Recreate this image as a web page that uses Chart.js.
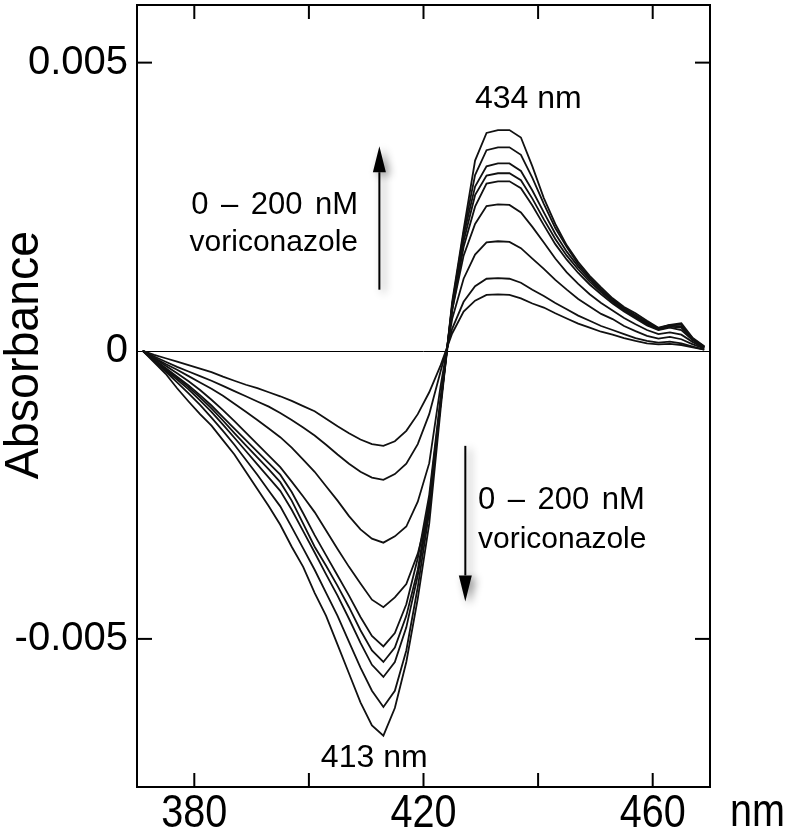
<!DOCTYPE html>
<html>
<head>
<meta charset="utf-8">
<script src="https://cdn.jsdelivr.net/npm/chart.js@4.4.0/dist/chart.umd.min.js"></script>
<style>
  html, body { margin: 0; padding: 0; background: #fff; }
  #wrap { width: 797px; height: 834px; }
</style>
</head>
<body>
<div id="wrap"><canvas id="chart" width="797" height="834"></canvas></div>
<script>
// Difference spectra, 0-200 nM voriconazole titration.
// Values (absorbance vs wavelength, nm).

const WAVELENGTHS = [371, 373, 375, 377, 379, 381, 383, 385, 387, 389,
  391, 393, 395, 397, 399, 401, 403, 405, 407, 409,
  411, 413, 415, 417, 419, 421, 423, 425, 427, 429,
  431, 433, 435, 437, 439, 441, 443, 445, 447, 449,
  451, 453, 455, 457, 459, 461, 463, 465, 467, 469];

const TRACE_1 = [0, -0.00007, -0.00013, -0.00019, -0.00025, -0.00031, -0.00037, -0.00045, -0.00052, -0.00059,
  -0.00065, -0.00072, -0.00079, -0.00087, -0.00096, -0.00105, -0.00118, -0.00131, -0.00143, -0.00154,
  -0.00162, -0.00165, -0.00157, -0.00139, -0.00110, -0.00072, -0.00025, 0.0003, 0.00068, 0.00087,
  0.00097, 0.00098, 0.00097, 0.00091, 0.00082, 0.00075, 0.00065, 0.00056, 0.00047, 0.0004,
  0.00033, 0.00028, 0.00022, 0.00017, 0.00013, 0.00011, 0.00012, 0.0001, 0.00006, 0.00002];

const TRACE_2 = [0, -0.0001, -0.00019, -0.00028, -0.00036, -0.00044, -0.00052, -0.00061, -0.0007, -0.00079,
  -0.00088, -0.00097, -0.00108, -0.0012, -0.00133, -0.00147, -0.00163, -0.0018, -0.00196, -0.0021,
  -0.0022, -0.00224, -0.00214, -0.00196, -0.00162, -0.0011, -0.00035, 0.00038, 0.00085, 0.00112,
  0.00125, 0.00126, 0.00125, 0.00118, 0.00106, 0.00095, 0.00083, 0.00072, 0.00061, 0.00052,
  0.00043, 0.00036, 0.00029, 0.00022, 0.00017, 0.00014, 0.00016, 0.00013, 0.00007, 0.00002];

const TRACE_3 = [0, -0.00012, -0.00023, -0.00033, -0.00044, -0.00055, -0.00066, -0.00078, -0.00092, -0.00106,
  -0.0012, -0.00135, -0.0015, -0.00168, -0.00189, -0.0021, -0.00235, -0.0026, -0.00287, -0.0031,
  -0.00326, -0.00333, -0.00322, -0.00305, -0.00262, -0.00195, -0.0006, 0.00055, 0.00125, 0.00167,
  0.00188, 0.0019, 0.00189, 0.00178, 0.0016, 0.00142, 0.00123, 0.00106, 0.0009, 0.00077,
  0.00064, 0.00055, 0.00043, 0.00034, 0.00026, 0.00021, 0.00024, 0.0002, 0.00011, 0.00004];

const TRACE_4 = [0, -0.00013, -0.00026, -0.00039, -0.00053, -0.00068, -0.00085, -0.00103, -0.00122, -0.00142,
  -0.00162, -0.00182, -0.00202, -0.00227, -0.00253, -0.0028, -0.00312, -0.00344, -0.00375, -0.00404,
  -0.00432, -0.00445, -0.00428, -0.00405, -0.00352, -0.00275, -0.0009, 0.0007, 0.00165, 0.0022,
  0.00251, 0.00254, 0.00253, 0.0024, 0.00215, 0.00188, 0.0016, 0.00136, 0.00116, 0.00098,
  0.00083, 0.0007, 0.00057, 0.00046, 0.00036, 0.00029, 0.00032, 0.00028, 0.00015, 0.00005];

const TRACE_5 = [0, -0.00015, -0.0003, -0.00045, -0.0006, -0.00077, -0.00095, -0.00115, -0.00135, -0.00155,
  -0.00175, -0.00195, -0.00215, -0.00245, -0.00282, -0.0032, -0.00355, -0.0039, -0.00425, -0.00462,
  -0.00495, -0.00513, -0.0049, -0.0044, -0.0036, -0.0025, -0.0008, 0.0007, 0.0018, 0.0025,
  0.0029, 0.00294, 0.00294, 0.00282, 0.00252, 0.00218, 0.00185, 0.00158, 0.00135, 0.00115,
  0.00098, 0.00082, 0.00068, 0.00056, 0.00044, 0.00036, 0.0004, 0.00036, 0.00018, 0.00006];

const TRACE_6 = [0, -0.00016, -0.00032, -0.00047, -0.00063, -0.00081, -0.001, -0.00121, -0.00143, -0.00164,
  -0.00185, -0.00206, -0.00228, -0.0026, -0.003, -0.0034, -0.00373, -0.00408, -0.00445, -0.00485,
  -0.0052, -0.0054, -0.00515, -0.0046, -0.0038, -0.0026, -0.00085, 0.00075, 0.0019, 0.0027,
  0.00304, 0.00308, 0.00308, 0.00296, 0.00264, 0.00228, 0.00194, 0.00165, 0.00141, 0.0012,
  0.00102, 0.00085, 0.0007, 0.00058, 0.00046, 0.00037, 0.00042, 0.0004, 0.00019, 0.00006];

const TRACE_7 = [0, -0.00017, -0.00034, -0.0005, -0.00067, -0.00086, -0.00106, -0.00128, -0.00151, -0.00174,
  -0.00197, -0.0022, -0.00243, -0.00276, -0.00313, -0.0035, -0.00388, -0.00425, -0.00465, -0.00507,
  -0.00545, -0.00566, -0.0054, -0.0048, -0.0039, -0.0027, -0.0009, 0.00078, 0.002, 0.00285,
  0.0032, 0.00325, 0.00325, 0.00312, 0.00278, 0.0024, 0.00203, 0.00172, 0.00146, 0.00124,
  0.00105, 0.00087, 0.00072, 0.0006, 0.00048, 0.00038, 0.00044, 0.00042, 0.0002, 0.00007];

const TRACE_8 = [0, -0.00018, -0.00036, -0.00055, -0.00074, -0.00094, -0.00116, -0.00139, -0.00163, -0.00189,
  -0.00215, -0.00243, -0.0027, -0.00306, -0.00343, -0.0038, -0.0042, -0.0046, -0.00505, -0.0055,
  -0.0059, -0.00618, -0.0059, -0.0052, -0.0041, -0.0028, -0.0009, 0.0008, 0.00205, 0.00305,
  0.00348, 0.00353, 0.00353, 0.0034, 0.003, 0.00255, 0.00213, 0.0018, 0.0015, 0.00127,
  0.00107, 0.00089, 0.00074, 0.00062, 0.0005, 0.00039, 0.00045, 0.00045, 0.00021, 0.00007];

const TRACE_9 = [0, -0.0002, -0.0004, -0.00065, -0.00088, -0.0011, -0.0013, -0.00155, -0.0018, -0.0021,
  -0.0024, -0.0027, -0.00302, -0.0034, -0.00375, -0.0042, -0.0046, -0.0051, -0.0056, -0.0061,
  -0.0065, -0.00668, -0.0062, -0.0054, -0.0043, -0.003, -0.001, 0.00085, 0.0021, 0.0033,
  0.00378, 0.00383, 0.00383, 0.0037, 0.0032, 0.00265, 0.0022, 0.00183, 0.00154, 0.0013,
  0.0011, 0.00091, 0.00076, 0.00065, 0.00052, 0.0004, 0.00045, 0.00048, 0.00022, 0.00008];

const TRACES = [TRACE_1, TRACE_2, TRACE_3, TRACE_4, TRACE_5, TRACE_6, TRACE_7, TRACE_8, TRACE_9];

const X_TICKS = [380, 400, 420, 440, 460];
const X_LABELS = [380, 420, 460];
const Y_TICKS = [-0.005, 0, 0.005];
const Y_LABELS = { '-0.005': '-0.005', '0': '0', '0.005': '0.005' };

const FONT = "'Liberation Sans', Arial, Helvetica, sans-serif";

function line(ctx, x1, y1, x2, y2) {
  ctx.beginPath();
  ctx.moveTo(x1, y1);
  ctx.lineTo(x2, y2);
  ctx.stroke();
}

// text squeezed horizontally, like the condensed face of the original
function narrowText(ctx, text, x, y, size, squeeze, align) {
  ctx.save();
  ctx.translate(x, y);
  ctx.scale(squeeze, 1);
  ctx.font = size + 'px ' + FONT;
  ctx.textAlign = align;
  ctx.fillText(text, 0, 0);
  ctx.restore();
}

// words laid out with a wide gap between them; align is 'left' or 'right'
function gappedText(ctx, words, x, y, gap, align) {
  const total = words.reduce((s, w) => s + ctx.measureText(w).width, 0) + gap * (words.length - 1);
  let cx = align === 'right' ? x - total : x;
  ctx.save();
  ctx.textAlign = 'left';
  words.forEach(w => {
    ctx.fillText(w, cx, y);
    cx += ctx.measureText(w).width + gap;
  });
  ctx.restore();
}

function arrow(ctx, x, yFrom, yTip) {
  const dir = yTip < yFrom ? -1 : 1;
  const head = 26;
  ctx.save();
  ctx.shadowColor = 'rgba(0,0,0,0.45)';
  ctx.shadowBlur = 8;
  ctx.shadowOffsetX = 4;
  ctx.shadowOffsetY = 3;
  ctx.strokeStyle = '#000';
  ctx.fillStyle = '#000';
  ctx.lineWidth = 2;
  line(ctx, x, yFrom, x, yTip - dir * head);
  ctx.beginPath();
  ctx.moveTo(x, yTip);
  ctx.lineTo(x - 6.5, yTip - dir * head);
  ctx.lineTo(x + 6.5, yTip - dir * head);
  ctx.closePath();
  ctx.fill();
  ctx.restore();
}

// zero line, frame, inward ticks, annotations
const decorations = {
  id: 'decorations',
  beforeDatasetsDraw(chart) {
    const { ctx, chartArea: a, scales: { y } } = chart;
    ctx.save();
    ctx.strokeStyle = '#000';
    ctx.lineWidth = 1;
    const y0 = Math.round(y.getPixelForValue(0)) + 0.5;
    line(ctx, a.left, y0, a.right, y0);
    ctx.restore();
  },
  afterDraw(chart) {
    const { ctx, chartArea: a, scales: { x, y } } = chart;
    ctx.save();
    ctx.strokeStyle = '#000';
    ctx.lineWidth = 2;
    ctx.strokeRect(a.left, a.top, a.right - a.left, a.bottom - a.top);
    X_TICKS.forEach(v => {
      const px = x.getPixelForValue(v);
      line(ctx, px, a.bottom, px, a.bottom - 14);
      line(ctx, px, a.top, px, a.top + 14);
    });
    Y_TICKS.filter(v => v !== 0).forEach(v => {
      const py = y.getPixelForValue(v);
      line(ctx, a.left, py, a.left + 15, py);
      line(ctx, a.right, py, a.right - 15, py);
    });

    ctx.fillStyle = '#000';
    ctx.textBaseline = 'middle';

    // x tick labels and axis titles
    X_LABELS.forEach(v => narrowText(ctx, String(v), x.getPixelForValue(v), a.bottom + 27, 46, 0.86, 'center'));
    narrowText(ctx, 'nm', a.right + 20, a.bottom + 26, 46, 0.86, 'left');
    ctx.save();
    ctx.translate(24, 355);
    ctx.rotate(-Math.PI / 2);
    narrowText(ctx, 'Absorbance', 0, 0, 49, 0.95, 'center');
    ctx.restore();

    // peak labels
    ctx.font = '32px ' + FONT;
    ctx.textAlign = 'center';
    ctx.fillText('434 nm', x.getPixelForValue(438.3), y.getPixelForValue(0.00436));
    ctx.fillText('413 nm', x.getPixelForValue(411.4), y.getPixelForValue(-0.00707));

    // titration notes
    ctx.font = '31px ' + FONT;
    const dose = ['0', '\u2013', '200', 'nM'];
    gappedText(ctx, dose, 358, 205, 12.5, 'right');
    ctx.font = '30px ' + FONT;
    ctx.textAlign = 'right';
    ctx.fillText('voriconazole', 358, 243);
    ctx.font = '31px ' + FONT;
    gappedText(ctx, dose, 478, 500, 12.5, 'left');
    ctx.font = '30px ' + FONT;
    ctx.textAlign = 'left';
    ctx.fillText('voriconazole', 478, 540);
    ctx.restore();

    arrow(ctx, x.getPixelForValue(412.3), y.getPixelForValue(0.00106), y.getPixelForValue(0.00355));
    arrow(ctx, x.getPixelForValue(427.3), y.getPixelForValue(-0.00165), y.getPixelForValue(-0.00435));
  }
};

const datasets = TRACES.map((trace, i) => ({
  label: 'trace ' + (i + 1),
  data: WAVELENGTHS.map((w, k) => ({ x: w, y: trace[k] })),
  borderColor: '#111',
  borderWidth: 1.8,
  pointRadius: 0,
  tension: 0,
  fill: false
}));

new Chart(document.getElementById('chart').getContext('2d'), {
  type: 'line',
  data: { datasets },
  options: {
    responsive: false,
    animation: false,
    devicePixelRatio: 1,
    layout: { padding: { top: 5, right: 87, left: 0, bottom: 0 } },
    plugins: { legend: { display: false }, tooltip: { enabled: false } },
    scales: {
      x: {
        type: 'linear',
        min: 370,
        max: 470,
        grid: { display: false, drawTicks: false },
        border: { display: false },
        afterBuildTicks: s => { s.ticks = X_TICKS.map(v => ({ value: v })); },
        afterFit: s => { s.height = 47; s.paddingLeft = 0; s.paddingRight = 0; },
        ticks: { display: false }
      },
      y: {
        type: 'linear',
        min: -0.00757,
        max: 0.006,
        grid: { display: false, drawTicks: false },
        border: { display: false },
        afterBuildTicks: s => { s.ticks = Y_TICKS.map(v => ({ value: v })); },
        afterFit: s => { s.width = 137; s.paddingTop = 0; s.paddingBottom = 0; },
        ticks: {
          padding: 9,
          color: '#000',
          font: { family: FONT, size: 40 },
          callback: v => Y_LABELS[String(v)] || ''
        }
      }
    }
  },
  plugins: [decorations]
});
</script>
</body>
</html>
